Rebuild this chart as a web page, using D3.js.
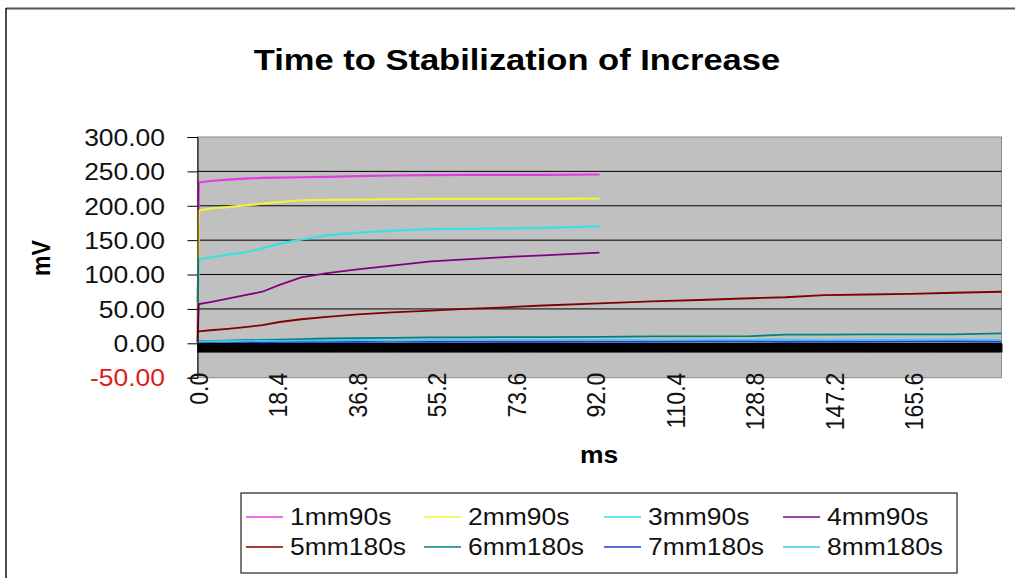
<!DOCTYPE html>
<html>
<head>
	<meta charset="utf-8">
	<title>Time to Stabilization of Increase</title>
	<script src="https://d3js.org/d3.v7.min.js"></script>
	<style>
		body { margin: 0; background: #fff; }
		text { font-family: "Liberation Sans", Arial, sans-serif; }
	</style>
</head>
<body>
<script>
	// time axis (ms) shared by every series
	var ms = [0, 0.3, 3, 7, 11, 15, 19, 24, 30, 37, 45, 54, 62, 70, 80, 93,
		105, 116, 128, 136, 145, 155, 165, 175, 186];

	// mV readings, null = no data (90s runs stop near 93 ms)
	var s1mm90s = [0, 234, 236, 238, 239.5, 240.5, 241, 241.5, 242, 243, 244, 244.5, 245, 245, 245, 245.5];
	var s2mm90s = [0, 193, 196, 198, 200.5, 203, 205.5, 208, 208.5, 209, 209.5, 210, 210, 210, 210, 210.5];
	var s3mm90s = [60, 122, 125, 129, 132, 138, 145, 151, 157, 161, 164, 166, 166.5, 167, 168, 170];
	var s4mm90s = [2, 57, 60, 65, 70, 75, 85, 96, 102, 107.5, 113, 119, 122, 125, 128, 132];
	var s5mm180s = [17, 17.5, 19, 21, 23.5, 26.5, 31, 35, 38.5, 42, 45, 47.5, 50, 52, 55, 58,
		61, 63, 65.5, 67, 70, 71, 72, 73.5, 75];
	var s6mm180s = [3, 3, 3.5, 4, 4.5, 5, 5.5, 6, 7, 7.5, 8, 8.5, 8.5, 9, 9, 9.5,
		10, 10, 10.5, 12.5, 12.5, 13, 13, 13, 14.5];
	var s7mm180s = [1, 1.5, 2, 2, 2, 1.5, 2, 2, 2.5, 2, 2.5, 2, 2.5, 2, 2, 2.5,
		2.5, 3, 3, 2, 3, 2.5, 3, 3, 2.5];
	var s8mm180s = [2, 2.5, 3, 3, 3.5, 4, 3.5, 4, 4, 4.5, 4, 4.5, 4.5, 5, 4.5, 5,
		4.5, 5, 5, 5.5, 4.5, 5, 5, 5.5, 5];

	var seriesNames = ["1mm90s", "2mm90s", "3mm90s", "4mm90s", "5mm180s", "6mm180s", "7mm180s", "8mm180s"];
	var seriesValues = [s1mm90s, s2mm90s, s3mm90s, s4mm90s, s5mm180s, s6mm180s, s7mm180s, s8mm180s];
	var seriesColors = ["#e23ce2", "#f2f23c", "#3ce0e0", "#800080", "#800000", "#008080", "#1f3fcf", "#3cc8f0"];

	var xTicks = [0, 18.4, 36.8, 55.2, 73.6, 92.0, 110.4, 128.8, 147.2, 165.6];
	var yTicks = [-50, 0, 50, 100, 150, 200, 250, 300];

	var svgWidth = 1015, svgHeight = 578;
	var stretch = "scale(1.15,1)";

	var svg = d3.select("body").append("svg")
		.attr("width", svgWidth)
		.attr("height", svgHeight);

	// plot area
	var plot = {left: 197.5, right: 1001.5, top: 137, bottom: 377.7};

	var x = d3.scaleLinear().domain([0, 186]).range([plot.left, plot.right]);
	var y = d3.scaleLinear().domain([-50, 300]).range([plot.bottom, plot.top]);

	// outer frame (only top and left visible)
	svg.append("line").attr("x1", 6).attr("x2", svgWidth).attr("y1", 8.5).attr("y2", 8.5)
		.attr("stroke", "#555").attr("stroke-width", 2);
	svg.append("line").attr("x1", 6).attr("x2", 6).attr("y1", 8).attr("y2", svgHeight)
		.attr("stroke", "#111").attr("stroke-width", 1.5);

	// title
	svg.append("text")
		.attr("transform", "translate(517,70) " + stretch)
		.attr("text-anchor", "middle")
		.attr("font-size", 30).attr("font-weight", "bold")
		.text("Time to Stabilization of Increase");

	svg.append("rect")
		.attr("x", plot.left).attr("y", plot.top)
		.attr("width", plot.right - plot.left).attr("height", plot.bottom - plot.top)
		.attr("fill", "#c0c0c0").attr("stroke", "#8a8a8a");

	// gridlines
	svg.append("g").selectAll("line")
		.data(yTicks.filter(function(d) { return d > -50 && d < 300; }))
		.enter().append("line")
		.attr("x1", plot.left).attr("x2", plot.right)
		.attr("y1", function(d) { return y(d); }).attr("y2", function(d) { return y(d); })
		.attr("stroke", "#000").attr("stroke-width", 1);

	// category axis crossing at 0: thousands of ticks make a solid black band
	var zeroAxis = svg.append("g")
		.attr("transform", "translate(0," + y(0) + ")")
		.call(d3.axisBottom(x).tickValues(d3.range(0.1, 185.9, 0.2)).tickSize(9).tickFormat(""));
	zeroAxis.selectAll("line").attr("stroke", "#000").attr("stroke-width", 2);
	zeroAxis.select(".domain").attr("stroke", "#000");

	// lines
	var line = d3.line()
		.defined(function(d) { return d[1] != null; })
		.x(function(d) { return x(d[0]); })
		.y(function(d) { return y(d[1]); });

	seriesValues.forEach(function(vals, i) {
		var pts = ms.map(function(t, j) { return [t, vals[j] == null ? null : vals[j]]; });
		svg.append("path")
			.datum(pts)
			.attr("d", line)
			.attr("fill", "none")
			.attr("stroke", seriesColors[i])
			.attr("stroke-width", i < 3 ? 2.2 : 1.8);
	});

	// y axis
	var fmtY = function(d) { return d3.format(".2f")(d).replace("\u2212", "-"); };
	var yAxisG = svg.append("g")
		.attr("transform", "translate(" + plot.left + ",0)")
		.call(d3.axisLeft(y).tickValues(yTicks).tickSize(10).tickFormat(fmtY));
	yAxisG.select(".domain").attr("stroke", "#000");
	yAxisG.selectAll("line").attr("stroke", "#000");
	yAxisG.selectAll("text")
		.attr("x", 0).attr("dy", "0.36em")
		.attr("transform", "translate(-32.5,0) " + stretch)
		.attr("font-size", 23)
		.attr("font-family", "Liberation Sans, Arial, sans-serif")
		.attr("fill", function(d) { return d < 0 ? "#e01b1b" : "#111"; });

	// x tick labels (rotated)
	var xAxisG = svg.append("g")
		.attr("transform", "translate(0," + plot.bottom + ")")
		.call(d3.axisBottom(x).tickValues(xTicks).tickSize(0).tickFormat(d3.format(".1f")));
	xAxisG.select(".domain").remove();
	xAxisG.selectAll("text")
		.attr("x", 0).attr("y", 0).attr("dy", "0.36em")
		.attr("text-anchor", "end")
		.attr("transform", "translate(0,-5) " + stretch + " rotate(-90)")
		.attr("font-size", 23)
		.attr("font-family", "Liberation Sans, Arial, sans-serif")
		.attr("fill", "#111");

	// axis titles
	svg.append("text")
		.attr("transform", "translate(599,463) " + stretch)
		.attr("text-anchor", "middle")
		.attr("font-size", 23).attr("font-weight", "bold")
		.text("ms");
	svg.append("text")
		.attr("transform", "translate(40,258) " + stretch + " rotate(-90)")
		.attr("text-anchor", "middle").attr("dy", "0.36em")
		.attr("font-size", 23).attr("font-weight", "bold")
		.text("mV");

	// legend
	var legend = svg.append("g");
	legend.append("rect")
		.attr("x", 241).attr("y", 493).attr("width", 716).attr("height", 80)
		.attr("fill", "#fff").attr("stroke", "#222").attr("stroke-width", 1.2);

	var colX = [290, 468, 648, 827];
	var rowY = [525, 555];
	seriesNames.forEach(function(name, i) {
		var tx = colX[i % 4], ty = rowY[Math.floor(i / 4)];
		legend.append("line")
			.attr("x1", tx - 44).attr("x2", tx - 7)
			.attr("y1", ty - 8).attr("y2", ty - 8)
			.attr("stroke", seriesColors[i]).attr("stroke-width", 1.5);
		legend.append("text")
			.attr("transform", "translate(" + tx + "," + ty + ") " + stretch)
			.attr("font-size", 23)
			.attr("fill", "#111")
			.text(name);
	});
</script>
</body>
</html>
